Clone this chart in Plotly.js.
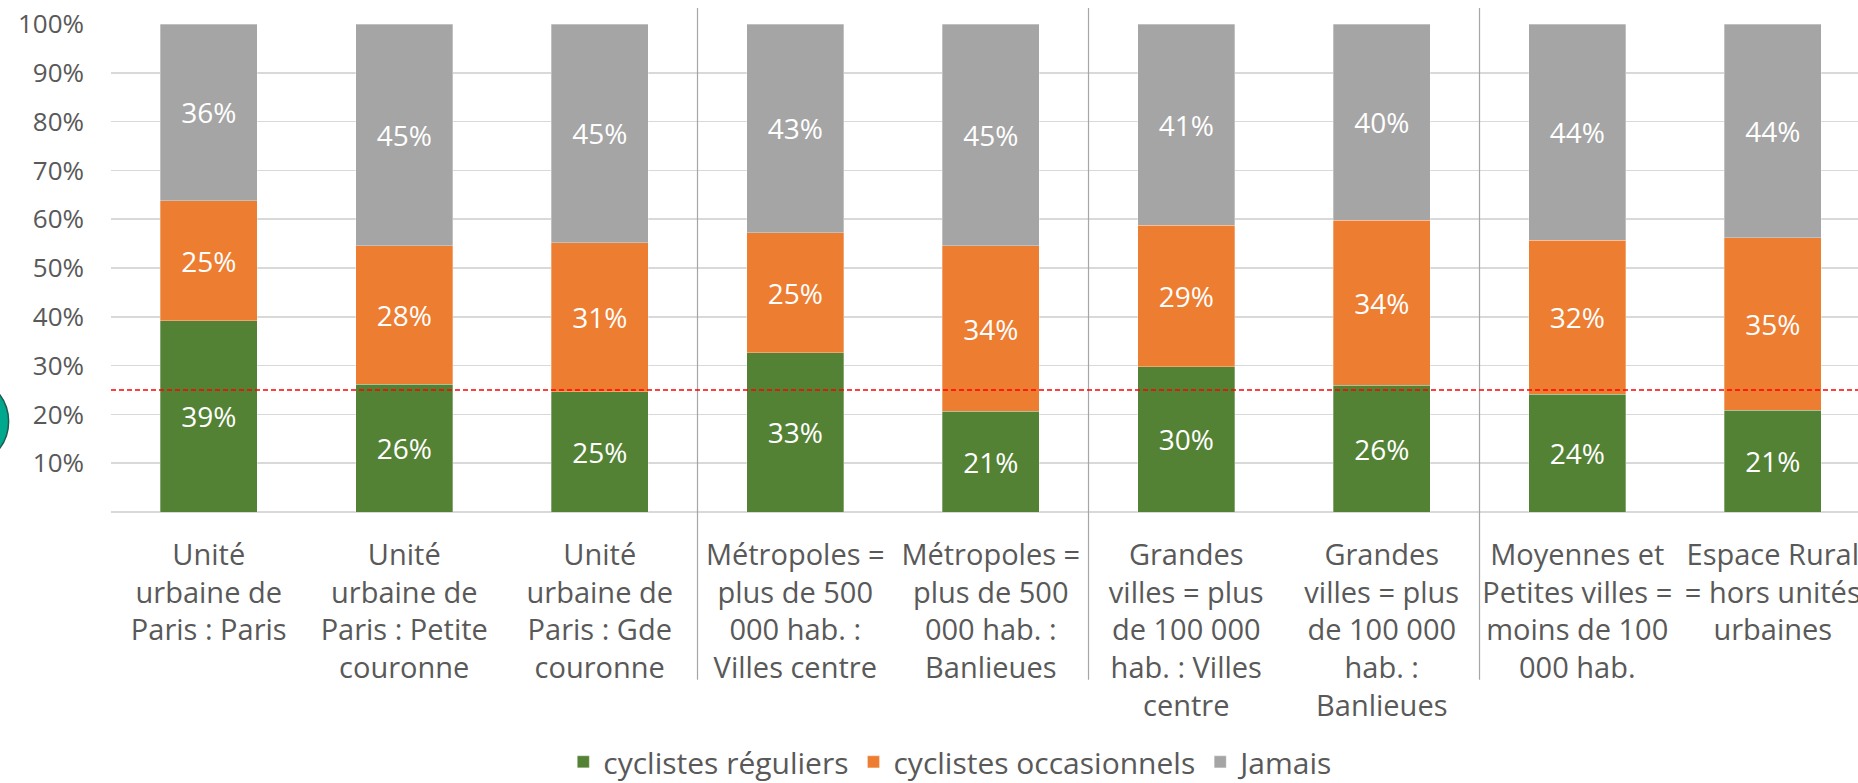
<!DOCTYPE html>
<html>
<head>
<meta charset="utf-8">
<script src="https://cdn.plot.ly/plotly-3.0.1.min.js"></script>
<style>
  html, body { margin: 0; padding: 0; background: #ffffff; }
  #chart { width: 1858px; height: 783px; }
</style>
</head>
<body>
<div id="chart"></div>
<script>
// ---- Data ----
const categories = [
  "Unité<br>urbaine de<br>Paris : Paris",
  "Unité<br>urbaine de<br>Paris : Petite<br>couronne",
  "Unité<br>urbaine de<br>Paris : Gde<br>couronne",
  "Métropoles =<br>plus de 500<br>000 hab. :<br>Villes centre",
  "Métropoles =<br>plus de 500<br>000 hab. :<br>Banlieues",
  "Grandes<br>villes = plus<br>de 100 000<br>hab. : Villes<br>centre",
  "Grandes<br>villes = plus<br>de 100 000<br>hab. :<br>Banlieues",
  "Moyennes et<br>Petites villes =<br>moins de 100<br>000 hab.",
  "Espace Rural<br>= hors unités<br>urbaines"
];
const seriesNames = ["cyclistes réguliers", "cyclistes occasionnels", "Jamais"];
const reguliers    = [39.2, 26.2, 24.6, 32.6, 20.6, 29.8, 26.0, 24.1, 20.9];
const occasionnels = [24.6, 28.4, 30.6, 24.6, 34.0, 29.0, 33.8, 31.6, 35.3];
const jamais       = [36.2, 45.4, 44.8, 42.8, 45.4, 41.2, 40.2, 44.3, 43.8];
const seriesColors = ["#548235", "#ED7D31", "#A5A5A5"];
const yTickVals = [10, 20, 30, 40, 50, 60, 70, 80, 90, 100];
const yTickText = ["10%", "20%", "30%", "40%", "50%", "60%", "70%", "80%", "90%", "100%"];
const referenceLevel = 25;
const groupSeparators = [2.5, 4.5, 6.5];

// ---- Chart ----
const FONT = "'Open Sans', 'DejaVu Sans', sans-serif";
const TXT = "#595959";
const seriesValues = [reguliers, occasionnels, jamais];

const traces = seriesValues.map((vals, i) => ({
  type: "bar",
  name: seriesNames[i],
  x: categories,
  y: vals,
  marker: { color: seriesColors[i], line: { color: "rgba(255,255,255,0.5)", width: 0.6 } },
  texttemplate: "%{y:.0f}%",
  textposition: "inside",
  insidetextanchor: "middle",
  textangle: 0,
  constraintext: "none",
  textfont: { family: FONT, size: 28, color: "#ffffff" },
  hoverinfo: "skip"
}));

const shapes = [];
groupSeparators.forEach(xv => {
  shapes.push({
    type: "line", xref: "x", yref: "paper",
    x0: xv, x1: xv, y0: -0.344, y1: 1.033,
    line: { color: "#A6A6A6", width: 1.2 },
    layer: "above"
  });
});
shapes.push({
  type: "line", xref: "paper", yref: "y",
  x0: 0, x1: 1, y0: referenceLevel, y1: referenceLevel,
  line: { color: "#FF0000", width: 1.4, dash: "5px,3px" },
  layer: "above"
});
shapes.push({
  type: "circle", xref: "paper", yref: "paper",
  x0: -0.1101, x1: -0.0586, y0: 0.0932, y1: 0.2777,
  fillcolor: "#00A88E",
  line: { color: "#1E5A50", width: 1.5 },
  layer: "above"
});

const layout = {
  width: 1858,
  height: 783,
  margin: { l: 111, r: 0, t: 24, b: 271, pad: 0 },
  paper_bgcolor: "#ffffff",
  plot_bgcolor: "#ffffff",
  barmode: "stack",
  bargap: 0.504,
  font: { family: FONT, color: TXT },
  showlegend: true,
  legend: {
    orientation: "h",
    xref: "container", yref: "container",
    x: 0.512, xanchor: "center",
    y: 0.027, yanchor: "middle",
    traceorder: "normal",
    itemgap: 22,
    font: { family: FONT, size: 30, color: TXT }
  },
  xaxis: {
    type: "category",
    range: [-0.5, 8.436],
    showgrid: false,
    showline: false,
    zeroline: false,
    ticks: "",
    tickangle: 0,
    ticklabelstandoff: 23,
    tickfont: { family: FONT, size: 29, color: TXT },
    fixedrange: true
  },
  yaxis: {
    range: [0, 100],
    tickvals: yTickVals,
    ticktext: yTickText,
    showgrid: true,
    gridcolor: "#D9D9D9",
    gridwidth: 1.5,
    zeroline: true,
    zerolinecolor: "#D9D9D9",
    zerolinewidth: 1.5,
    showline: false,
    ticks: "",
    ticklabelstandoff: 26,
    tickfont: { family: FONT, size: 26, color: TXT },
    fixedrange: true
  },
  shapes: shapes
};

Plotly.newPlot("chart", traces, layout, { displayModeBar: false, staticPlot: true });
</script>
</body>
</html>
